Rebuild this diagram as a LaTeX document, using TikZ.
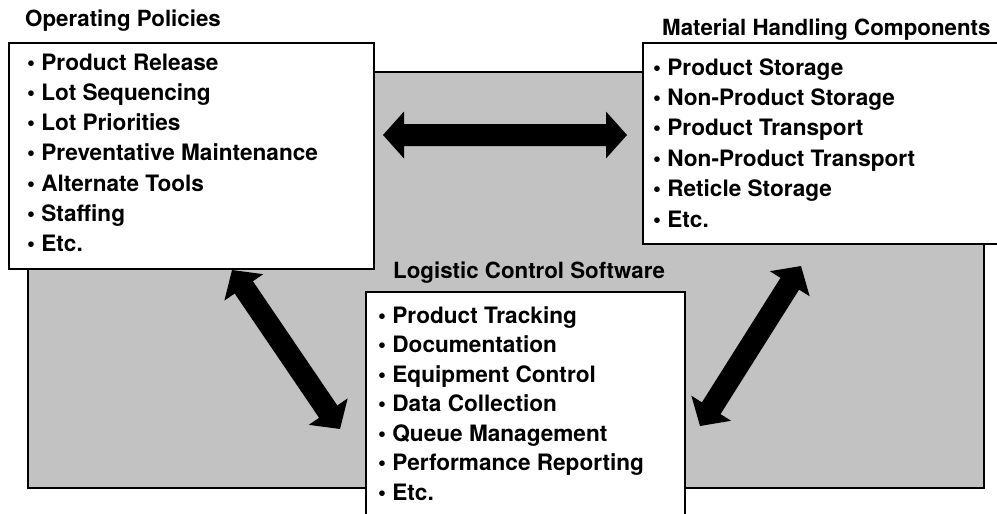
\documentclass[tikz,border=0pt]{standalone}
\usepackage{fontspec}
\setmainfont{TeX Gyre Heros}
\usetikzlibrary{calc}

% thick double-headed arrow between two named points
\newcommand\bigdoublearrow[2]{%
  \coordinate (hA) at ($(#1)!21pt!(#2)$);
  \coordinate (hB) at ($(#2)!21pt!(#1)$);
  \fill[black] (#1)
    -- ($(hA)!23.5pt!90:(#1)$) -- ($(hA)!11pt!90:(#1)$)
    -- ($(hB)!11pt!-90:(#2)$) -- ($(hB)!23.5pt!-90:(#2)$)
    -- (#2)
    -- ($(hB)!23.5pt!90:(#2)$) -- ($(hB)!11pt!90:(#2)$)
    -- ($(hA)!11pt!-90:(#1)$) -- ($(hA)!23.5pt!-90:(#1)$)
    -- cycle;}

\begin{document}
\begin{tikzpicture}[x=1pt,y=-1pt,
  panel/.style={draw=black, line width=2pt, fill=white, inner sep=0pt, anchor=north west},
  backdrop/.style={draw=black, line width=2pt, fill=black!24},
  heading/.style={font=\bfseries\fontsize{22.3}{26}\selectfont, inner sep=0pt, anchor=base west},
  entry/.style={font=\bfseries\fontsize{22.6}{26}\selectfont, inner sep=0pt, anchor=base west}]
\useasboundingbox (0,0) rectangle (997,514);

% shaded backdrop
\draw[backdrop] (28,72) rectangle (984,488);

% arrow end points
\coordinate (h1) at (383,135);
\coordinate (h2) at (627,135);
\coordinate (l1) at (232,270);
\coordinate (l2) at (340,429);
\coordinate (r1) at (801,266);
\coordinate (r2) at (700,426);

\bigdoublearrow{h1}{h2}
\bigdoublearrow{l1}{l2}
\bigdoublearrow{r1}{r2}

% panels
\node[panel, minimum width=365pt, minimum height=226pt] (ops) at (8,42) {};
\node[panel, minimum width=360pt, minimum height=201pt] (mhc) at (642,42) {};
\node[panel, minimum width=319pt, minimum height=240pt] (lcs) at (365,291) {};

% headings
\node[heading] (opsT) at (25,27) {Operating Policies};
\node[heading] (mhcT) at (662,35) {Material Handling Components};
\node[heading] (lcsT) at (393,278) {Logistic Control Software};

% list entries
\foreach \t [count=\i] in {Product Release, Lot Sequencing, Lot Priorities,
    Preventative Maintenance, Alternate Tools, Staffing, Etc.}
  \node[entry] (ops-\i) at (27,{70+30.3*(\i-1)}) {• \t};

\foreach \t [count=\i] in {Product Storage, Non-Product Storage, Product Transport,
    Non-Product Transport, Reticle Storage, Etc.}
  \node[entry] (mhc-\i) at (653,{75+30.4*(\i-1)}) {• \t};

\foreach \t [count=\i] in {Product Tracking, Documentation, Equipment Control,
    Data Collection, Queue Management, Performance Reporting, Etc.}
  \node[entry] (lcs-\i) at (378,{323+29.5*(\i-1)}) {• \t};
\end{tikzpicture}
\end{document}
